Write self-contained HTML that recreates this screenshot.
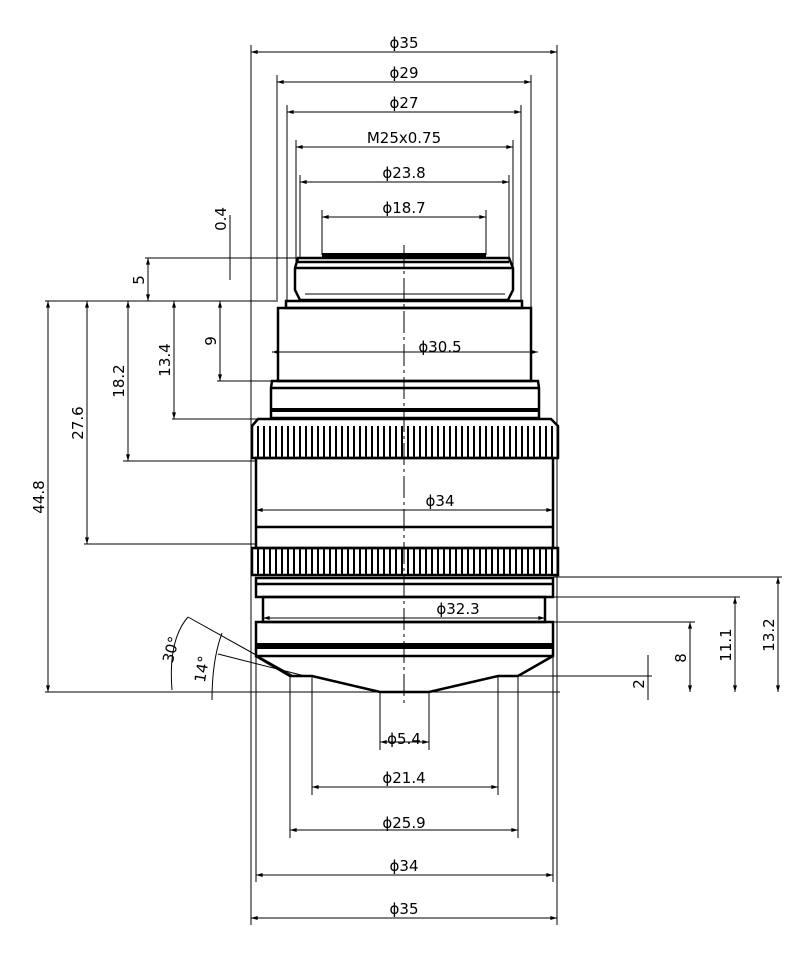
<!DOCTYPE html>
<html><head><meta charset="utf-8"><style>
html,body{margin:0;padding:0;background:#fff}
svg{display:block}
text{font-family:"DejaVu Sans","Liberation Sans",sans-serif;font-size:15px;fill:#000}
</style></head><body>
<svg width="800" height="974" viewBox="0 0 800 974" xmlns="http://www.w3.org/2000/svg">
<defs>
<marker id="a" viewBox="0 0 10 6" refX="10" refY="3" markerWidth="7" markerHeight="4" orient="auto-start-reverse"><path d="M0,0L10,3L0,6z" fill="#000"/></marker>
</defs>
<g stroke="#000" stroke-width="1" fill="none">
<line x1="251" y1="45" x2="251" y2="925"/><line x1="557" y1="45" x2="557" y2="925"/>
<line x1="277" y1="75" x2="277" y2="300"/><line x1="531" y1="75" x2="531" y2="308"/>
<line x1="287" y1="105" x2="287" y2="302"/><line x1="521" y1="105" x2="521" y2="302"/>
<line x1="296" y1="140" x2="296" y2="268"/><line x1="513" y1="140" x2="513" y2="268"/>
<line x1="300" y1="175" x2="300" y2="258"/><line x1="509" y1="175" x2="509" y2="258"/>
<line x1="322" y1="210" x2="322" y2="255"/><line x1="486" y1="210" x2="486" y2="255"/>
<line x1="251" y1="52" x2="557" y2="52" marker-start="url(#a)" marker-end="url(#a)"/>
<line x1="277" y1="82" x2="531" y2="82" marker-start="url(#a)" marker-end="url(#a)"/>
<line x1="287" y1="112" x2="521" y2="112" marker-start="url(#a)" marker-end="url(#a)"/>
<line x1="296" y1="147" x2="513" y2="147" marker-start="url(#a)" marker-end="url(#a)"/>
<line x1="300" y1="182" x2="509" y2="182" marker-start="url(#a)" marker-end="url(#a)"/>
<line x1="322" y1="217" x2="486" y2="217" marker-start="url(#a)" marker-end="url(#a)"/>
<line x1="380" y1="692" x2="380" y2="750"/><line x1="429" y1="692" x2="429" y2="750"/>
<line x1="312" y1="676" x2="312" y2="795"/><line x1="498" y1="676" x2="498" y2="795"/>
<line x1="290" y1="676" x2="290" y2="838"/><line x1="518" y1="676" x2="518" y2="838"/>
<line x1="256" y1="656" x2="256" y2="882"/><line x1="553" y1="656" x2="553" y2="882"/>
<line x1="380" y1="742" x2="429" y2="742" marker-start="url(#a)" marker-end="url(#a)"/>
<line x1="312" y1="787" x2="498" y2="787" marker-start="url(#a)" marker-end="url(#a)"/>
<line x1="290" y1="830" x2="518" y2="830" marker-start="url(#a)" marker-end="url(#a)"/>
<line x1="256" y1="875" x2="553" y2="875" marker-start="url(#a)" marker-end="url(#a)"/>
<line x1="251" y1="918" x2="557" y2="918" marker-start="url(#a)" marker-end="url(#a)"/>
<line x1="45" y1="692" x2="560" y2="692"/>
<line x1="45" y1="301" x2="278" y2="301"/>
<line x1="145" y1="258" x2="298" y2="258"/>
<line x1="217" y1="381" x2="272" y2="381"/>
<line x1="172" y1="419" x2="272" y2="419"/>
<line x1="123" y1="461" x2="256" y2="461"/>
<line x1="84" y1="544" x2="256" y2="544"/>
<line x1="48" y1="301" x2="48" y2="692" marker-start="url(#a)" marker-end="url(#a)"/>
<line x1="87" y1="301" x2="87" y2="544" marker-start="url(#a)" marker-end="url(#a)"/>
<line x1="128" y1="301" x2="128" y2="461" marker-start="url(#a)" marker-end="url(#a)"/>
<line x1="174" y1="301" x2="174" y2="419" marker-start="url(#a)" marker-end="url(#a)"/>
<line x1="220" y1="301" x2="220" y2="381" marker-start="url(#a)" marker-end="url(#a)"/>
<line x1="148" y1="258" x2="148" y2="301" marker-start="url(#a)" marker-end="url(#a)"/>
<line x1="230" y1="215" x2="230" y2="280"/>
<line x1="553" y1="577" x2="782" y2="577"/><line x1="545" y1="597" x2="740" y2="597"/>
<line x1="553" y1="622" x2="695" y2="622"/><line x1="520" y1="676" x2="652" y2="676"/>
<line x1="778" y1="577" x2="778" y2="692" marker-start="url(#a)" marker-end="url(#a)"/>
<line x1="735" y1="597" x2="735" y2="692" marker-start="url(#a)" marker-end="url(#a)"/>
<line x1="690" y1="622" x2="690" y2="692" marker-start="url(#a)" marker-end="url(#a)"/>
<line x1="648" y1="655" x2="648" y2="700"/>
<line x1="272" y1="352" x2="538" y2="352" marker-start="url(#a)" marker-end="url(#a)"/>
<line x1="256" y1="510" x2="553" y2="510" marker-start="url(#a)" marker-end="url(#a)"/>
<line x1="263" y1="618" x2="545" y2="618" marker-start="url(#a)" marker-end="url(#a)"/>
<line x1="188" y1="617" x2="292" y2="675"/>
<line x1="218" y1="654" x2="305" y2="676"/>
<path d="M188,617 Q168,640 172,690"/>
<path d="M222,633 Q212,660 212,700"/>
<line x1="404" y1="245" x2="404" y2="705" stroke-dasharray="22,4,3,4"/>
</g>
<g stroke="#000" stroke-width="2">
<path d="M258,426V458M264,426V458M270,426V458M276,426V458M282,426V458M288,426V458M294,426V458M300,426V458M306,426V458M312,426V458M318,426V458M324,426V458M330,426V458M336,426V458M342,426V458M348,426V458M354,426V458M360,426V458M366,426V458M372,426V458M378,426V458M384,426V458M390,426V458M396,426V458M402,426V458M408,426V458M414,426V458M420,426V458M426,426V458M432,426V458M438,426V458M444,426V458M450,426V458M456,426V458M462,426V458M468,426V458M474,426V458M480,426V458M486,426V458M492,426V458M498,426V458M504,426V458M510,426V458M516,426V458M522,426V458M528,426V458M534,426V458M540,426V458M546,426V458M552,426V458"/>
<path d="M258,548V575M264,548V575M270,548V575M276,548V575M282,548V575M288,548V575M294,548V575M300,548V575M306,548V575M312,548V575M318,548V575M324,548V575M330,548V575M336,548V575M342,548V575M348,548V575M354,548V575M360,548V575M366,548V575M372,548V575M378,548V575M384,548V575M390,548V575M396,548V575M402,548V575M408,548V575M414,548V575M420,548V575M426,548V575M432,548V575M438,548V575M444,548V575M450,548V575M456,548V575M462,548V575M468,548V575M474,548V575M480,548V575M486,548V575M492,548V575M498,548V575M504,548V575M510,548V575M516,548V575M522,548V575M528,548V575M534,548V575M540,548V575M546,548V575M552,548V575"/>
</g>
<g stroke="#000" stroke-width="2.5" fill="none">
<line x1="322" y1="255" x2="486" y2="255" stroke-width="4"/>
<path d="M298,258 H509 L513,268 V290 L508,300 H300 L295,290 V268 Z"/>
<line x1="298" y1="262" x2="509" y2="262"/>
<line x1="295" y1="268" x2="513" y2="268"/>
<line x1="305" y1="294" x2="505" y2="294" stroke-width="1"/>
<rect x="286" y="301" width="236" height="7"/>
<rect x="278" y="308" width="253" height="73"/>
<path d="M272,381 H538 L539,388 V418 H271 V388 Z"/>
<line x1="271" y1="388" x2="539" y2="388"/>
<line x1="271" y1="410" x2="539" y2="410" stroke-width="4"/>
<path d="M252,426 L258,419 H551 L558,426 V458 H252 Z"/>
<rect x="256" y="458" width="297" height="90"/>
<line x1="256" y1="527" x2="553" y2="527"/>
<rect x="252" y="548" width="306" height="27"/>
<rect x="256" y="578" width="297" height="19"/>
<line x1="256" y1="584" x2="553" y2="584"/>
<rect x="263" y="597" width="282" height="25"/>
<rect x="256" y="622" width="297" height="34"/>
<line x1="256" y1="646" x2="553" y2="646" stroke-width="6"/>
<path d="M256,656 L290,676 H312 L380,692 H429 L498,676 H518 L553,656"/>
</g>
<g text-anchor="middle">
<text x="404" y="48">ϕ35</text>
<text x="404" y="78">ϕ29</text>
<text x="404" y="108">ϕ27</text>
<text x="404" y="143">M25x0.75</text>
<text x="404" y="178">ϕ23.8</text>
<text x="404" y="213">ϕ18.7</text>
<text x="440" y="352">ϕ30.5</text>
<text x="440" y="506">ϕ34</text>
<text x="458" y="614">ϕ32.3</text>
<text x="404" y="744">ϕ5.4</text>
<text x="404" y="783">ϕ21.4</text>
<text x="404" y="828">ϕ25.9</text>
<text x="404" y="871">ϕ34</text>
<text x="404" y="914">ϕ35</text>
<text transform="translate(44,497) rotate(-90)">44.8</text>
<text transform="translate(83,423) rotate(-90)">27.6</text>
<text transform="translate(124,381) rotate(-90)">18.2</text>
<text transform="translate(170,360) rotate(-90)">13.4</text>
<text transform="translate(216,341) rotate(-90)">9</text>
<text transform="translate(144,280) rotate(-90)">5</text>
<text transform="translate(226,219) rotate(-90)">0.4</text>
<text transform="translate(774,635) rotate(-90)">13.2</text>
<text transform="translate(731,645) rotate(-90)">11.1</text>
<text transform="translate(686,658) rotate(-90)">8</text>
<text transform="translate(644,684) rotate(-90)">2</text>
<text transform="translate(176,651) rotate(-75)">30°</text>
<text transform="translate(207,670) rotate(-80)">14°</text>
</g>
</svg>
</body></html>
